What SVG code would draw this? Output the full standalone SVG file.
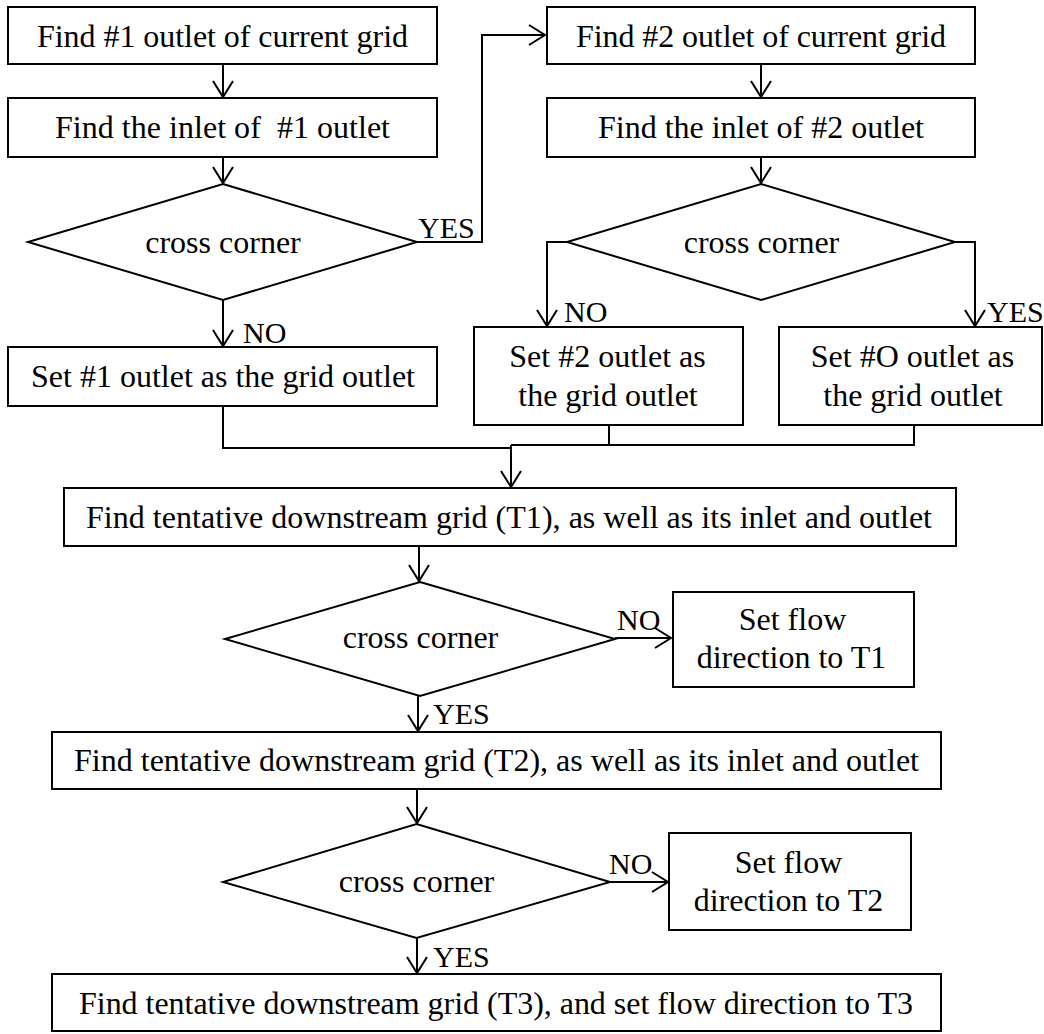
<svg xmlns="http://www.w3.org/2000/svg" width="1044" height="1034" viewBox="0 0 1044 1034">
<style>
.box{fill:#fff;stroke:#000;stroke-width:2}
.dia{fill:#fff;stroke:#000;stroke-width:2}
.t{font-family:"Liberation Serif","Times New Roman",serif;font-size:32px;fill:#000;text-anchor:middle;white-space:pre}
.lbl{font-family:"Liberation Serif","Times New Roman",serif;font-size:30px;fill:#000}
.c{fill:none;stroke:#000;stroke-width:2}
</style>
<defs>
<marker id="arr" markerUnits="userSpaceOnUse" markerWidth="24" markerHeight="24" viewBox="-20 -12 24 24" refX="0" refY="0" orient="auto">
<path d="M-16,-10 L0,0 L-16,10" fill="none" stroke="#000" stroke-width="2"/>
</marker>
</defs>
<rect width="1044" height="1034" fill="#fff"/>
<g id="connectors">
<path class="c" d="M223,64 V97" marker-end="url(#arr)"/>
<path class="c" d="M223,157 V183" marker-end="url(#arr)"/>
<path class="c" d="M417,242 H482 V35 H545" marker-end="url(#arr)"/>
<path class="c" d="M223,300 V346" marker-end="url(#arr)"/>
<path class="c" d="M761,64 V97" marker-end="url(#arr)"/>
<path class="c" d="M761,157 V183" marker-end="url(#arr)"/>
<path class="c" d="M567,242 H547 V326" marker-end="url(#arr)"/>
<path class="c" d="M955,242 H975 V326" marker-end="url(#arr)"/>
<path class="c" d="M223,406 V448 H511"/>
<path class="c" d="M609,425 V445 H511"/>
<path class="c" d="M914,425 V445 H609"/>
<path class="c" d="M511,445 V487" marker-end="url(#arr)"/>
<path class="c" d="M419,546 V581" marker-end="url(#arr)"/>
<path class="c" d="M615,638 H671" marker-end="url(#arr)"/>
<path class="c" d="M418,696 V731" marker-end="url(#arr)"/>
<path class="c" d="M417,789 V823" marker-end="url(#arr)"/>
<path class="c" d="M610,882 H668" marker-end="url(#arr)"/>
<path class="c" d="M417,938 V973" marker-end="url(#arr)"/>
<text class="lbl" x="418" y="238">YES</text>
<text class="lbl" x="243" y="343">NO</text>
<text class="lbl" x="564" y="322">NO</text>
<text class="lbl" x="987" y="322">YES</text>
<text class="lbl" x="617" y="630">NO</text>
<text class="lbl" x="433" y="724">YES</text>
<text class="lbl" x="609" y="874">NO</text>
<text class="lbl" x="433" y="967">YES</text>
</g>
<g id="n1"><rect class="box" x="8" y="7" width="429" height="57"/><text class="t" x="222.5" y="47" textLength="371">Find #1 outlet of current grid</text></g>
<g id="n2"><rect class="box" x="8" y="98" width="429" height="59"/><text class="t" x="222.5" y="138" textLength="335">Find the inlet of  #1 outlet</text></g>
<g id="d1"><polygon class="dia" points="223,184 417,242 223,300 28,242"/><text class="t" x="223" y="253">cross corner</text></g>
<g id="n3"><rect class="box" x="8" y="347" width="429" height="59"/><text class="t" x="223" y="387" textLength="384">Set #1 outlet as the grid outlet</text></g>
<g id="n4"><rect class="box" x="547" y="7" width="428" height="57"/><text class="t" x="761" y="47" textLength="370">Find #2 outlet of current grid</text></g>
<g id="n5"><rect class="box" x="547" y="98" width="428" height="59"/><text class="t" x="761" y="138" textLength="326">Find the inlet of #2 outlet</text></g>
<g id="d2"><polygon class="dia" points="761,184 955,242 761,300 567,242"/><text class="t" x="761.5" y="253">cross corner</text></g>
<g id="n6"><rect class="box" x="474" y="327" width="269" height="98"/><text class="t" x="607.5" y="367">Set #2 outlet as</text><text class="t" x="608" y="406">the grid outlet</text></g>
<g id="n7"><rect class="box" x="779" y="327" width="263" height="98"/><text class="t" x="912.5" y="367">Set #O outlet as</text><text class="t" x="913" y="406">the grid outlet</text></g>
<g id="n8"><rect class="box" x="64" y="488" width="892" height="58"/><text class="t" x="509" y="528" textLength="846">Find tentative downstream grid (T1), as well as its inlet and outlet</text></g>
<g id="d3"><polygon class="dia" points="420,582 615,639 420,696 225,639"/><text class="t" x="420.5" y="648">cross corner</text></g>
<g id="n9"><rect class="box" x="673" y="592" width="241" height="95"/><text class="t" x="792.5" y="630">Set flow</text><text class="t" x="791.5" y="668">direction to T1</text></g>
<g id="n10"><rect class="box" x="52" y="732" width="889" height="57"/><text class="t" x="496.5" y="771" textLength="845">Find tentative downstream grid (T2), as well as its inlet and outlet</text></g>
<g id="d4"><polygon class="dia" points="416.5,824 610,882 416.5,938 223,882"/><text class="t" x="416.5" y="892">cross corner</text></g>
<g id="n11"><rect class="box" x="669" y="833" width="242" height="97"/><text class="t" x="788.5" y="873">Set flow</text><text class="t" x="788.5" y="911">direction to T2</text></g>
<g id="n12"><rect class="box" x="52" y="974" width="889" height="57"/><text class="t" x="496" y="1014" textLength="834">Find tentative downstream grid (T3), and set flow direction to T3</text></g>
</svg>
